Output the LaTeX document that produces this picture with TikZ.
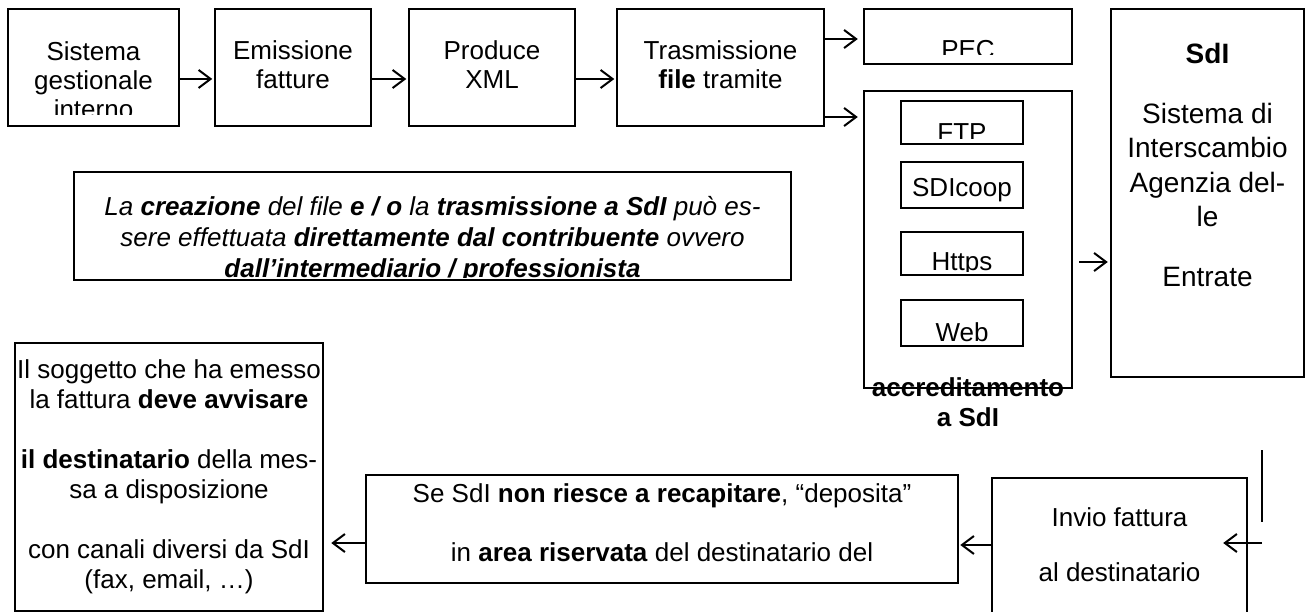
\documentclass[tikz,border=0pt]{standalone}
\usepackage{fontspec}
\setmainfont{Liberation Sans}
\usetikzlibrary{arrows.meta}

\tikzset{
    box/.style={draw, line width=2.5pt, inner sep=0pt},
    lbl/.style={align=center, inner sep=0pt, font=\fontsize{26}{29}\selectfont},
    cutbox/.style n args={4}{box, path picture={
        \clip ([yshift=#2]path picture bounding box.south west) rectangle (path picture bounding box.north east);
        \node[lbl, #3] (#1) at (path picture bounding box.center) {#4};}},
    arr/.style={-{Straight Barb[length=12pt, width=18pt]}, line width=2pt},
}

\begin{document}
\begin{tikzpicture}[x=1pt, y=-1pt]
    \useasboundingbox (0,0) rectangle (1311,612);
    \fill[white] (0,0) rectangle (1311,612);

    \node[cutbox={sisttxt}{11pt}{yshift=-13pt}{Sistema\\gestionale\\interno}, minimum width=171pt, minimum height=117pt] (sist) at (93.5,67.5) {};
    \node[cutbox={emisstxt}{0pt}{yshift=3pt}{Emissione\\fatture}, minimum width=156pt, minimum height=117pt] (emiss) at (293,67.5) {};
    \node[cutbox={xmltxt}{0pt}{yshift=3pt}{Produce\\XML}, minimum width=166pt, minimum height=117pt] (xml) at (492,67.5) {};
    \node[cutbox={trastxt}{0pt}{yshift=3pt}{Trasmissione\\\textbf{file} tramite}, minimum width=207pt, minimum height=117pt] (tras) at (720.5,67.5) {};

    \node[cutbox={pectxt}{9pt}{yshift=-13.5pt}{PEC}, minimum width=208pt, minimum height=55pt] (pec) at (968,36.5) {};
    \node[box, minimum width=208pt, minimum height=297pt] (accr) at (968,239.5) {};
    \node[cutbox={ftptxt}{5pt}{yshift=-10.5pt}{FTP}, minimum width=122pt, minimum height=43pt] (ftp) at (962,122.5) {};
    \node[box, minimum width=122pt, minimum height=46pt] (coop) at (962,185) {};
    \node[lbl] (cooptxt) at ([yshift=-5pt]coop.center) {SDIcoop};
    \node[cutbox={httpstxt}{3pt}{yshift=-10.5pt}{Https}, minimum width=122pt, minimum height=43pt] (https) at (962,253.5) {};
    \node[cutbox={webtxt}{4pt}{yshift=-9pt}{Web}, minimum width=122pt, minimum height=46pt] (web) at (962,323) {};
    \node[lbl, font=\bfseries\fontsize{26}{30}\selectfont] (accrtxt) at (968,402) {accreditamento\\a SdI};

    \node[box, minimum width=193pt, minimum height=368pt] (sdi) at (1207.5,193) {};
    \node[lbl, font=\fontsize{28}{34.5}\selectfont] (sditxt) at ([yshift=28pt]sdi.center) {\textbf{SdI}\\[25pt]Sistema di\\Interscambio\\Agenzia del-\\le\\[25pt]Entrate};

    \node[cutbox={notatxt}{3pt}{yshift=-14pt, font=\itshape\fontsize{26}{31}\selectfont}{La \textbf{creazione} del file \textbf{e / o} la \textbf{trasmissione a SdI} può es-\\sere effettuata \textbf{direttamente dal contribuente} ovvero\\\textbf{dall’intermediario / professionista}}, minimum width=717pt, minimum height=108pt] (nota) at (432.5,226) {};

    \node[box, minimum width=308pt, minimum height=268pt] (sogg) at (169,477) {};
    \node[lbl, font=\fontsize{26}{30}\selectfont] (soggtxt) at (sogg.center) {Il soggetto che ha emesso\\la fattura \textbf{deve avvisare}\\[30pt]\textbf{il destinatario} della mes-\\sa a disposizione\\[30pt]con canali diversi da SdI\\(fax, email, …)};
    \node[box, minimum width=592pt, minimum height=108pt] (dep) at (662,529) {};
    \node[lbl, font=\fontsize{26}{30}\selectfont] (deptxt) at ([yshift=6.5pt]dep.center) {Se SdI \textbf{non riesce a recapitare}, “deposita”\\[29pt]in \textbf{area riservata} del destinatario del};
    \node[minimum width=255pt, minimum height=134pt, inner sep=0pt] (invio) at (1119.5,545) {};
    \draw[line width=2.5pt] (invio.south west) -- (invio.north west) -- (invio.north east) -- (invio.south east);
    \node[lbl, font=\fontsize{26}{30}\selectfont] (inviotxt) at (invio.center) {Invio fattura\\[25pt]al destinatario};

    \draw[arr, shorten >=1.5pt] ([yshift=-11.5pt]sist.east) -- ([yshift=-11.5pt]emiss.west);
    \draw[arr, shorten >=1.5pt] ([yshift=-11.5pt]emiss.east) -- ([yshift=-11.5pt]xml.west);
    \draw[arr, shorten >=1.5pt] ([yshift=-11.5pt]xml.east) -- ([yshift=-11.5pt]tras.west);
    \draw[arr, shorten >=5pt] ([yshift=28.5pt]tras.east) -- ([yshift=28.5pt]tras.east -| pec.west);
    \draw[arr, shorten >=5pt] ([yshift=-49.5pt]tras.east) -- ([yshift=-49.5pt]tras.east -| accr.west);
    \draw[arr, shorten >=2pt] ([xshift=6pt, yshift=-22.5pt]accr.east) -- ([yshift=-22.5pt]accr.east -| sdi.west);
    \draw[arr, shorten >=1pt] (invio.west) -- (invio.west -| dep.east);
    \draw[arr, shorten >=7pt] ([yshift=-14pt]dep.west) -- ([yshift=-14pt]dep.west -| sogg.east);
    \coordinate (feedtop) at (1262,450);
    \coordinate (feedend) at (1262,522);
    \coordinate (feed) at (1262,543);
    \draw[line width=1.5pt] (feedtop) -- (feedend);
    \draw[arr] (feed) -- ([xshift=-24pt, yshift=2pt]invio.east);
\end{tikzpicture}
\end{document}
